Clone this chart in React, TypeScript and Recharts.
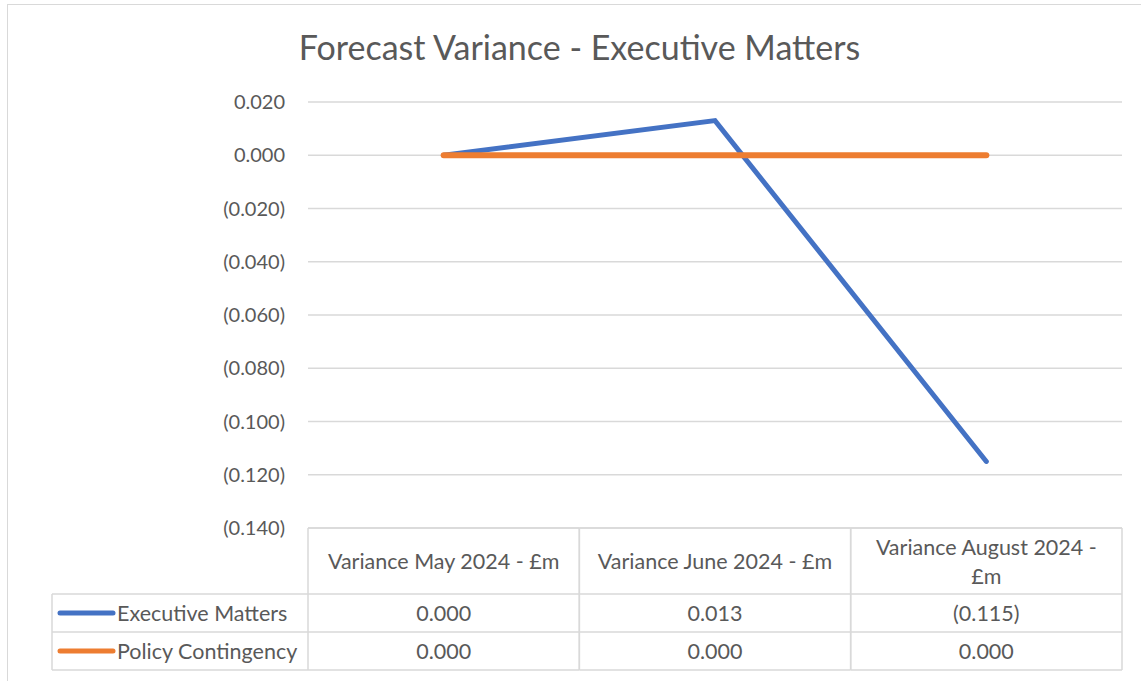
import React from 'react';
import { LineChart, Line, XAxis, YAxis, CartesianGrid } from 'recharts';

const categories = ['Variance May 2024 - £m', 'Variance June 2024 - £m', 'Variance August 2024 - £m'];
const executiveMatters = [0.0, 0.013, -0.115];
const policyContingency = [0.0, 0.0, 0.0];
const yTicks = [0.02, 0, -0.02, -0.04, -0.06, -0.08, -0.1, -0.12, -0.14];
const seriesNames = ['Executive Matters', 'Policy Contingency'];
const seriesColors = ['#4472C4', '#ED7D31'];

const data = categories.map((c, i) => ({
  category: c,
  exec: executiveMatters[i],
  policy: policyContingency[i],
}));

const W = 1141;
const H = 681;
const PLOT_LEFT = 308;
const MARGIN_TOP = 102;
const MARGIN_RIGHT = 19;
const XAXIS_H = 153;
const BAND = (W - MARGIN_RIGHT - PLOT_LEFT) / categories.length;
const HEADER_H = 66;
const ROW_H = 38;
const LABEL_LEFT = 52;
const FONT = 'Lato, "Open Sans", sans-serif';
const TEXT_COLOR = '#595959';
const BORDER = '#d9d9d9';
const FS_TICK = 20;
const FS_TABLE = 21.5;
const HEADER_WRAP = 245;
const HEADER_LH = 29;

const fmt = (v: number) => {
  const r = Math.round(v * 1000) / 1000;
  return r < 0 ? `(${Math.abs(r).toFixed(3)})` : Math.abs(r).toFixed(3);
};

let ctx: CanvasRenderingContext2D | null = null;
const measure = (s: string) => {
  if (!ctx) {
    const c = document.createElement('canvas');
    ctx = c.getContext('2d');
  }
  if (!ctx) return s.length * FS_TABLE * 0.5;
  ctx.font = `${FS_TABLE}px Lato`;
  return ctx.measureText(s).width;
};

const wrap = (s: string, maxW: number) => {
  const words = s.split(' ');
  const lines: string[] = [];
  let cur = '';
  words.forEach((w) => {
    const t = cur ? `${cur} ${w}` : w;
    if (cur && measure(t) > maxW) {
      lines.push(cur);
      cur = w;
    } else {
      cur = t;
    }
  });
  if (cur) lines.push(cur);
  return lines;
};

const seriesValues = [executiveMatters, policyContingency];

const TableTick = (props: any) => {
  const { x, y, payload, index } = props;
  const left = x - BAND / 2;
  const right = x + BAND / 2;
  const hBottom = y + HEADER_H;
  const bottom = hBottom + ROW_H * seriesValues.length;
  const els: React.ReactNode[] = [];
  els.push(<line key="t" x1={left} x2={right} y1={y} y2={y} stroke={BORDER} strokeWidth={1.5} />);
  els.push(<line key="r" x1={right} x2={right} y1={y} y2={bottom} stroke={BORDER} strokeWidth={1.5} />);
  els.push(<line key="l" x1={left} x2={left} y1={y} y2={bottom} stroke={BORDER} strokeWidth={1.5} />);
  els.push(<line key="hb" x1={left} x2={right} y1={hBottom} y2={hBottom} stroke={BORDER} strokeWidth={1.5} />);
  seriesValues.forEach((vals, r) => {
    const rb = hBottom + ROW_H * (r + 1);
    els.push(<line key={`rb${r}`} x1={left} x2={right} y1={rb} y2={rb} stroke={BORDER} strokeWidth={1.5} />);
    els.push(
      <text key={`v${r}`} x={x} y={hBottom + ROW_H * r + ROW_H / 2} textAnchor="middle" dominantBaseline="central"
        fill={TEXT_COLOR} fontSize={FS_TABLE} fontFamily={FONT}>{fmt(vals[index])}</text>
    );
  });
  const lines = wrap(String(payload.value), HEADER_WRAP);
  const cy = y + HEADER_H / 2;
  const firstY = cy - ((lines.length - 1) * HEADER_LH) / 2;
  lines.forEach((ln, li) => {
    els.push(
      <text key={`h${li}`} x={x} y={firstY + li * HEADER_LH} textAnchor="middle" dominantBaseline="central"
        fill={TEXT_COLOR} fontSize={FS_TABLE} fontFamily={FONT}>{ln}</text>
    );
  });
  if (index === 0) {
    els.push(<line key="lt" x1={LABEL_LEFT} x2={left} y1={hBottom} y2={hBottom} stroke={BORDER} strokeWidth={1.5} />);
    els.push(<line key="ll" x1={LABEL_LEFT} x2={LABEL_LEFT} y1={hBottom} y2={bottom} stroke={BORDER} strokeWidth={1.5} />);
    seriesNames.forEach((name, r) => {
      const ry = hBottom + ROW_H * r + ROW_H / 2;
      const rb = hBottom + ROW_H * (r + 1);
      els.push(<line key={`lrb${r}`} x1={LABEL_LEFT} x2={left} y1={rb} y2={rb} stroke={BORDER} strokeWidth={1.5} />);
      els.push(<line key={`lg${r}`} x1={LABEL_LEFT + 8} x2={LABEL_LEFT + 61} y1={ry} y2={ry} stroke={seriesColors[r]} strokeWidth={5} strokeLinecap="round" />);
      els.push(
        <text key={`ln${r}`} x={LABEL_LEFT + 65} y={ry} dominantBaseline="central" fill={TEXT_COLOR} fontSize={FS_TABLE} fontFamily={FONT}>{name}</text>
      );
    });
  }
  return <g>{els}</g>;
};

export default function App() {
  return (
    <div style={{ position: 'absolute', left: 0, top: 0, width: W, height: H, overflow: 'hidden', background: '#fff' }}>
      <div style={{ position: 'absolute', left: 7, top: 4, width: W + 50, height: H + 50, border: `1.5px solid ${BORDER}`, boxSizing: 'border-box' }} />
      <div style={{ position: 'absolute', left: 0, top: 27, width: 1159, textAlign: 'center', fontFamily: FONT, fontSize: 34, color: TEXT_COLOR, lineHeight: '40px', whiteSpace: 'nowrap' }}>
        Forecast Variance - Executive Matters
      </div>
      <div style={{ position: 'absolute', left: 0, top: 0 }}>
        <LineChart width={W} height={H} data={data} margin={{ top: MARGIN_TOP, right: MARGIN_RIGHT, bottom: 0, left: 0 }}>
          <CartesianGrid vertical={false} stroke={BORDER} strokeWidth={1.5} />
          <XAxis dataKey="category" axisLine={false} tickLine={false} tickSize={0} tickMargin={0} height={XAXIS_H} interval={0}
            padding={{ left: BAND / 2, right: BAND / 2 }} tick={<TableTick />} />
          <YAxis type="number" domain={[-0.14, 0.02]} ticks={yTicks} width={PLOT_LEFT} axisLine={false} tickLine={false}
            tickSize={0} tickMargin={23} tickFormatter={fmt} tick={{ fill: TEXT_COLOR, fontSize: FS_TICK, fontFamily: FONT }} />
          <Line dataKey="exec" name={seriesNames[0]} stroke={seriesColors[0]} strokeWidth={5} dot={false} isAnimationActive={false} strokeLinecap="round" />
          <Line dataKey="policy" name={seriesNames[1]} stroke={seriesColors[1]} strokeWidth={6} dot={false} isAnimationActive={false} strokeLinecap="round" />
        </LineChart>
      </div>
    </div>
  );
}
